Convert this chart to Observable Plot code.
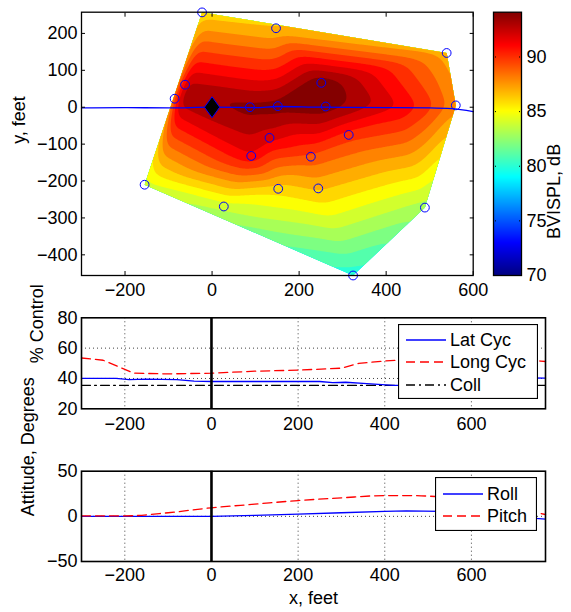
<!DOCTYPE html>
<html><head><meta charset="utf-8">
<script src="https://cdn.jsdelivr.net/npm/d3@7"></script>
<script src="https://cdn.jsdelivr.net/npm/@observablehq/plot@0.6"></script>
<style>
body{margin:0;background:#fff;}
#root{position:relative;width:571px;height:612px;overflow:hidden;background:#fff;}
#root > svg{position:absolute;}
</style></head><body><div id="root"></div>
<script>
// ---------- data ----------
// microphone locations (feet) and measured BVISPL (dB)
const micX  = [-23, 147, 539, -62, -86, 87, 151, 251, 261, 560, 132, 314, 90, 227, -155, 152, 244, 27, 489, 324];
const micY  = [257, 214, 147, 61, 23, 0, 3, 66, 2, 5, -83, -75, -132, -134, -210, -221, -220, -269, -272, -456];
const micDB = [86.4, 87.0, 87.5, 93.3, 93.4, 94.5, 94.6, 95.0, 94.8, 88.3, 92.4, 90.5, 92.0, 89.8, 84.6, 86.5, 87.2, 84.5, 83.5, 80.4];
// extra level readings taken off the contour picture (inside the hull, no microphone)
const fieldX  = [430, 495];
const fieldY  = [0, 0];
const fieldDB = [92.0, 90.5];
const refX = [0], refY = [0];
// flight path ground track
const pathX = [-300, -200, -100, 0, 100, 150, 250, 400, 500, 550, 600];
const pathY = [-2, -1, -2, 0, -1, 2, 0, -1, -2, -4, -12];
// contour levels (dB)
const levels = [78, 79, 80, 81, 82, 83, 84, 85, 86, 87, 88, 89, 90, 91, 92, 93, 94];
// colour bar
const cbarTicks = [70, 75, 80, 85, 90];
const cbarMin = 70, cbarMax = 94.1;
// controls (% control) vs x
const latX  = [-300, -220, -190, -150, -80, -40, 0, 100, 250, 280, 310, 350, 420, 480, 560, 650, 740, 771];
const latY  = [40, 40, 39.3, 39.5, 39.2, 38.2, 38, 38, 38, 37.2, 37.5, 36.8, 35.5, 35.5, 37, 39, 40.4, 40.2];
const longX = [-300, -250, -200, -180, -100, 0, 100, 200, 300, 340, 400, 450, 550, 650, 760, 771];
const longY = [53.5, 52, 46, 43.5, 43, 43.5, 44.8, 45.5, 46.8, 50, 51.5, 52.3, 53, 52.5, 51.5, 51.2];
const collX = [-300, 0, 300, 600, 771];
const collY = [35.5, 35.5, 35.4, 35.4, 35.4];
// attitude (deg) vs x
const rollX  = [-300, -200, -100, 0, 100, 200, 300, 400, 450, 530, 600, 700, 740, 771];
const rollY  = [0, 0, 0, 0, 1, 2.5, 4, 5.6, 6, 5.6, 4, 0, -2, -3];
const pitchX = [-300, -200, -100, 0, 100, 200, 300, 400, 450, 530, 600, 700, 771];
const pitchY = [0.5, 0.5, 4, 9.5, 13.5, 17.5, 20.5, 23, 23, 21.5, 17, 9, 2];
// axes ticks
const xTicks = [-200, 0, 200, 400, 600];
const yTicksTop = [-400, -300, -200, -100, 0, 100, 200];
const yTicksCtrl = [20, 40, 60, 80];
const yTicksAtt = [-50, 0, 50];

// ---------- drawing ----------
(function(){
const FONT = '"Liberation Sans", Arial, Helvetica, sans-serif';
const root = document.getElementById("root");
const style = {fontFamily: FONT, fontSize: "18px", color: "black", background: "transparent", overflow: "visible"};
const jetDomain = [70, 73.01, 79.04, 85.06, 91.09, 94.1];
const jetRange = ["#000080", "#0000ff", "#00ffff", "#ffff00", "#ff0000", "#800000"];
const colorScale = {type: "linear", domain: jetDomain, range: jetRange, interpolate: "rgb", clamp: true};

const mics = micX.map((x, i) => ({x, y: micY[i], v: micDB[i]}));
const samples = mics.concat(fieldX.map((x, i) => ({x, y: fieldY[i], v: fieldDB[i]})));
const ref = refX.map((x, i) => ({x, y: refY[i]}));
const path = pathX.map((x, i) => ({x, y: pathY[i]}));
const toPts = (X, Y) => X.map((x, i) => ({x, y: Y[i]}));
const diamond = {draw(ctx, size) {
  const r = Math.sqrt(size / Math.PI);
  ctx.moveTo(0, -r * 1.1); ctx.lineTo(r * 0.8, 0); ctx.lineTo(0, r * 1.1); ctx.lineTo(-r * 0.8, 0); ctx.closePath();
}};

function place(svg, left, topPx) {
  svg.style.left = left + "px";
  svg.style.top = topPx + "px";
  root.appendChild(svg);
}
const blankFmt = () => "";

// ---- top contour plot ----
const chartTop = Plot.plot({
  width: 480, height: 300,
  marginLeft: 81, marginRight: 7.3, marginTop: 11.7, marginBottom: 25,
  x: {domain: [-300, 600]},
  y: {domain: [-456, 257.5]},
  color: colorScale,
  style,
  marks: [
    Plot.contour(samples, {x: "x", y: "y", fill: "v", interpolate: "barycentric", thresholds: levels, stroke: "none", pixelSize: 1, blur: 5}),
    Plot.line(path, {x: "x", y: "y", stroke: "#0000ff", strokeWidth: 1.3, curve: "monotone-x"}),
    Plot.dot(ref, {x: "x", y: "y", symbol: diamond, r: 9.5, fill: "black", stroke: "#0000ff", strokeWidth: 1}),
    Plot.dot(mics, {x: "x", y: "y", r: 4.4, stroke: "#0000ff", fill: "none", strokeWidth: 1}),
    Plot.frame({stroke: "black", strokeWidth: 1.3}),
    Plot.axisX({ticks: xTicks, tickSize: 0, tickPadding: 8, label: null}),
    Plot.axisX({ticks: xTicks, tickSize: -4, tickFormat: blankFmt, label: null}),
    Plot.axisX({ticks: xTicks, anchor: "top", tickSize: -4, tickFormat: blankFmt, label: null}),
    Plot.axisY({ticks: yTicksTop, tickSize: 0, tickPadding: 4, label: null}),
    Plot.axisY({ticks: yTicksTop, tickSize: -4, tickFormat: blankFmt, label: null}),
    Plot.axisY({ticks: yTicksTop, anchor: "right", tickSize: -4, tickFormat: blankFmt, label: null}),
    Plot.text(["y, feet"], {frameAnchor: "left", dx: -62, rotate: -90, fontSize: 18})
  ]
});
// clip the contour to the microphone hull
(function(){
  const sx = chartTop.scale("x"), sy = chartTop.scale("y");
  const hull = d3.polygonHull(mics.map(d => [sx.apply(d.x), sy.apply(d.y)]));
  const ns = "http://www.w3.org/2000/svg";
  const defs = document.createElementNS(ns, "defs");
  const cp = document.createElementNS(ns, "clipPath");
  cp.setAttribute("id", "micHull");
  const poly = document.createElementNS(ns, "polygon");
  poly.setAttribute("points", hull.map(p => p.join(",")).join(" "));
  cp.appendChild(poly); defs.appendChild(cp);
  chartTop.insertBefore(defs, chartTop.firstChild);
  const g = chartTop.querySelector('g[aria-label="contour"]');
  if (g) g.setAttribute("clip-path", "url(#micHull)");
})();
place(chartTop, 0, 0);

// ---- colour bar ----
const chartBar = Plot.plot({
  width: 78, height: 300,
  marginLeft: 0, marginRight: 50, marginTop: 11.7, marginBottom: 25,
  x: {domain: [0, 1], axis: null},
  y: {domain: [cbarMin, cbarMax]},
  color: colorScale,
  style,
  marks: [
    Plot.raster({x1: 0, x2: 1, y1: cbarMin, y2: cbarMax, fill: (x, y) => y, pixelSize: 1}),
    Plot.frame({stroke: "black", strokeWidth: 1.3}),
    Plot.axisY({ticks: cbarTicks.slice(1), tickSize: -3, tickFormat: blankFmt, label: null, strokeDasharray: "1,1"}),
    Plot.axisY({ticks: cbarTicks.slice(1), anchor: "right", tickSize: -3, tickFormat: blankFmt, label: null, strokeDasharray: "1,1"}),
    Plot.axisY({ticks: cbarTicks, anchor: "right", tickSize: 0, tickPadding: 5, label: null}),
    Plot.text(["BVISPL, dB"], {frameAnchor: "right", dx: 33, rotate: -90, fontSize: 18})
  ]
});
place(chartBar, 493, 0);

// ---- control plot ----
const grid = {stroke: "black", strokeDasharray: "1,3", strokeWidth: 1, strokeOpacity: 0.75};
const chartCtrl = Plot.plot({
  width: 571, height: 130,
  marginLeft: 81, marginRight: 26, marginTop: 17.3, marginBottom: 21.7,
  x: {domain: [-300, 771]},
  y: {domain: [20, 80]},
  style,
  marks: [
    Plot.ruleX([-200, 200, 400, 600], grid),
    Plot.ruleY([40, 60], grid),
    Plot.line(toPts(collX, collY), {x: "x", y: "y", stroke: "black", strokeWidth: 1.2, strokeDasharray: "9,4,2,4"}),
    Plot.line(toPts(latX, latY), {x: "x", y: "y", stroke: "#0000ff", strokeWidth: 1.3}),
    Plot.line(toPts(longX, longY), {x: "x", y: "y", stroke: "#ff0000", strokeWidth: 1.3, strokeDasharray: "9,5"}),
    Plot.ruleX([0], {stroke: "black", strokeWidth: 2.6}),
    Plot.frame({stroke: "black", strokeWidth: 1.6}),
    Plot.axisX({ticks: xTicks, tickSize: 0, tickPadding: 8, label: null}),
    Plot.axisY({ticks: yTicksCtrl, tickSize: 0, tickPadding: 4, label: null}),
    Plot.text(["% Control"], {frameAnchor: "left", dx: -44, rotate: -90, fontSize: 18})
  ]
});
place(chartCtrl, 0, 300);

// ---- attitude plot ----
const chartAtt = Plot.plot({
  width: 571, height: 162,
  marginLeft: 81, marginRight: 26, marginTop: 20.7, marginBottom: 51,
  x: {domain: [-300, 771]},
  y: {domain: [-50, 50]},
  style,
  marks: [
    Plot.ruleX([-200, 200, 400, 600], grid),
    Plot.ruleY([0], grid),
    Plot.line(toPts(rollX, rollY), {x: "x", y: "y", stroke: "#0000ff", strokeWidth: 1.3}),
    Plot.line(toPts(pitchX, pitchY), {x: "x", y: "y", stroke: "#ff0000", strokeWidth: 1.3, strokeDasharray: "9,5", curve: "monotone-x"}),
    Plot.ruleX([0], {stroke: "black", strokeWidth: 2.6}),
    Plot.frame({stroke: "black", strokeWidth: 1.6}),
    Plot.axisX({ticks: xTicks, tickSize: 0, tickPadding: 7, label: null}),
    Plot.axisY({ticks: yTicksAtt, tickSize: 0, tickPadding: 4, label: null}),
    Plot.text(["Attitude, Degrees"], {frameAnchor: "left", dx: -53, rotate: -90, fontSize: 18}),
    Plot.text(["x, feet"], {frameAnchor: "bottom", dy: 42, fontSize: 18})
  ]
});
place(chartAtt, 0, 450);

// ---- legends ----
function legend(left, topPx, w, h, items) {
  const svg = d3.create("svg").attr("width", w).attr("height", h)
    .style("position", "absolute").style("left", left + "px").style("top", topPx + "px")
    .style("font-family", FONT).style("font-size", "18px");
  svg.append("rect").attr("x", 0.5).attr("y", 0.5).attr("width", w - 1).attr("height", h - 1)
    .attr("fill", "white").attr("stroke", "black").attr("stroke-width", 1.2);
  items.forEach(it => {
    svg.append("line").attr("x1", 8).attr("x2", 48).attr("y1", it.y).attr("y2", it.y)
      .attr("stroke", it.color).attr("stroke-width", 1.3).attr("stroke-dasharray", it.dash || null);
    svg.append("text").attr("x", 52).attr("y", it.y).attr("dy", "0.35em").text(it.label);
  });
  root.appendChild(svg.node());
}
legend(397.7, 324.3, 140, 75, [
  {label: "Lat Cyc", color: "#0000ff", y: 16},
  {label: "Long Cyc", color: "#ff0000", dash: "9,5", y: 38},
  {label: "Coll", color: "black", dash: "9,4,2,4", y: 61}
]);
legend(435, 477, 102, 54, [
  {label: "Roll", color: "#0000ff", y: 17},
  {label: "Pitch", color: "#ff0000", dash: "9,5", y: 39}
]);
})();
</script></body></html>
